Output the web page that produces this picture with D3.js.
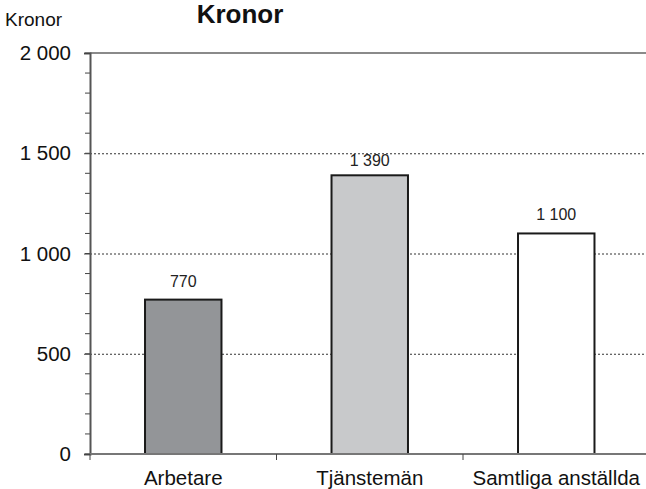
<!DOCTYPE html>
<html>
<head>
<meta charset="utf-8">
<script src="https://cdn.jsdelivr.net/npm/d3@7"></script>
<style>
  body { margin: 0; background: #fff; }
  svg { font-family: "Liberation Sans", Arial, sans-serif; }
</style>
</head>
<body>
<svg id="chart" width="646" height="489"></svg>
<script>
// data
var categories = ['Arbetare', 'Tjänstemän', 'Samtliga anställda'];
var values = [770, 1390, 1100];
var barColors = ['#939598', '#c8c9cb', '#ffffff'];
var yTicks = [0, 500, 1000, 1500, 2000];

var sv = d3.formatLocale({decimal: ',', thousands: ' ', grouping: [3], currency: ['', ' kr']});
var fmt = sv.format(',d');

var svg = d3.select('#chart');
var plotLeft = 90, plotTop = 53, plotBottom = 454, plotRight = 649.5;

var x = d3.scaleBand().domain(categories).range([plotLeft, plotRight]).paddingInner(0.59).paddingOuter(0.295);
var y = d3.scaleLinear().domain([0, 2000]).range([plotBottom, plotTop]);

// gridlines
svg.append('g').selectAll('line')
    .data(yTicks.filter(function(d) { return d > 0 && d < 2000; }))
  .enter().append('line')
    .attr('x1', plotLeft).attr('x2', 646)
    .attr('y1', function(d) { return y(d) + 0.5; })
    .attr('y2', function(d) { return y(d) + 0.5; })
    .attr('stroke', '#333').attr('stroke-width', 1)
    .attr('stroke-dasharray', '2,2');

// top frame line
svg.append('line')
    .attr('x1', plotLeft).attr('x2', 646).attr('y1', y(2000)).attr('y2', y(2000))
    .attr('stroke', '#8a8a8a').attr('stroke-width', 2);

// y minor ticks
svg.append('g').selectAll('line')
    .data(d3.range(0, 2001, 100))
  .enter().append('line')
    .attr('x1', 85).attr('x2', plotLeft)
    .attr('y1', function(d) { return y(d); }).attr('y2', function(d) { return y(d); })
    .attr('stroke', '#444').attr('stroke-width', 1);

// y axis
var yAxis = svg.append('g')
    .attr('transform', 'translate(' + plotLeft + ',0)')
    .call(d3.axisLeft(y).tickValues(yTicks).tickFormat(fmt).tickSize(6).tickPadding(13));
yAxis.select('.domain').attr('stroke', '#555').attr('stroke-width', 2);
yAxis.selectAll('.tick line').attr('stroke', '#444');
yAxis.selectAll('.tick text').attr('font-size', 20.5).attr('fill', '#111').attr('font-family', null);

// bars
svg.append('g').selectAll('rect')
    .data(values)
  .enter().append('rect')
    .attr('x', function(d, i) { return x(categories[i]); })
    .attr('y', function(d) { return y(d); })
    .attr('width', x.bandwidth())
    .attr('height', function(d) { return plotBottom - y(d); })
    .attr('fill', function(d, i) { return barColors[i]; })
    .attr('stroke', '#1a1a1a').attr('stroke-width', 2);

// value labels (kept below the 1 500 gridline, as in the original)
svg.append('g').selectAll('text')
    .data(values)
  .enter().append('text')
    .attr('x', function(d, i) { return x(categories[i]) + x.bandwidth() / 2; })
    .attr('y', function(d) { return Math.max(y(d) - 13, y(1500) + 13); })
    .attr('text-anchor', 'middle')
    .attr('font-size', 16).attr('fill', '#222')
    .text(function(d) { return fmt(d); });

// x axis
var xb = d3.scaleLinear().domain([0, 3]).range([plotLeft, plotRight]);
svg.append('line')
    .attr('x1', plotLeft).attr('x2', 646).attr('y1', plotBottom).attr('y2', plotBottom)
    .attr('stroke', '#777').attr('stroke-width', 2);
svg.append('g').selectAll('line')
    .data([0, 1, 2, 3])
  .enter().append('line')
    .attr('x1', function(d) { return xb(d); }).attr('x2', function(d) { return xb(d); })
    .attr('y1', plotBottom).attr('y2', plotBottom + 6)
    .attr('stroke', '#444');
svg.append('g').selectAll('text')
    .data(categories)
  .enter().append('text')
    .attr('x', function(d) { return x(d) + x.bandwidth() / 2; })
    .attr('y', 485)
    .attr('text-anchor', 'middle')
    .attr('font-size', 20.5).attr('fill', '#111')
    .text(function(d) { return d; });

// titles
svg.append('text').attr('x', 5).attr('y', 26).attr('font-size', 19).attr('fill', '#111').text('Kronor');
svg.append('text').attr('x', 240).attr('y', 23).attr('text-anchor', 'middle')
    .attr('font-size', 26).attr('font-weight', 'bold').attr('fill', '#111').text('Kronor');
</script>
</body>
</html>
